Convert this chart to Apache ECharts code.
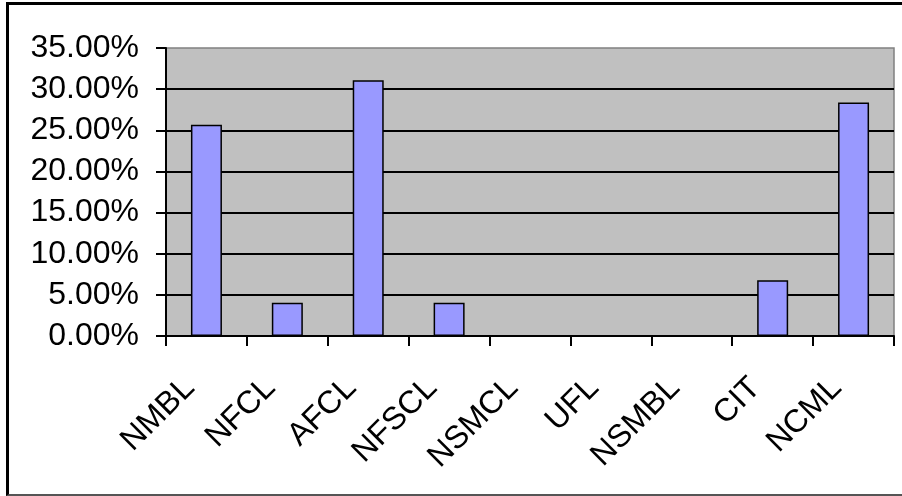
<!DOCTYPE html>
<html>
<head>
<meta charset="utf-8">
<script src="https://cdn.jsdelivr.net/npm/echarts@6/dist/echarts.min.js"></script>
<style>
  html, body { margin: 0; padding: 0; background: #fff; }
  #frame {
    position: absolute; left: 6px; top: 2px; width: 896px; height: 494px;
    border-left: 3px solid #000; border-top: 3px solid #000; border-bottom: 2px solid #555;
    box-sizing: border-box;
  }
  #chart { position: absolute; left: 0; top: 0; width: 902px; height: 496px; }
</style>
</head>
<body>
<div id="frame"></div>
<div id="chart"></div>
<script>
// Share of each line (percent)
const categories = ['NMBL', 'NFCL', 'AFCL', 'NFSCL', 'NSMCL', 'UFL', 'NSMBL', 'CIT', 'NCML'];
const shares = [25.68, 4.05, 31.08, 4.05, 0, 0, 0, 6.76, 28.38];
const yMin = 0, yMax = 35, yStep = 5;

const FONT = '"Liberation Sans", Arial, sans-serif';

const chart = echarts.init(document.getElementById('chart'), null, { renderer: 'canvas' });
chart.setOption({
  backgroundColor: 'transparent',
  animation: false,
  grid: {
    left: 166, top: 48, right: 8, bottom: 160,
    show: true, backgroundColor: '#C0C0C0', borderColor: '#808080', borderWidth: 1.5
  },
  xAxis: {
    type: 'category',
    data: categories,
    axisLine: { lineStyle: { color: '#000', width: 2 } },
    axisTick: { show: true, length: 10, interval: 0, lineStyle: { color: '#000', width: 2 } },
    axisLabel: {
      interval: 0, rotate: 45, margin: 30, padding: [0, 24, 0, 0],
      color: '#000', fontFamily: FONT, fontSize: 32
    },
    splitLine: { show: false }
  },
  yAxis: {
    type: 'value',
    min: yMin, max: yMax, interval: yStep,
    axisLine: { show: true, lineStyle: { color: '#000', width: 2 } },
    axisTick: { show: true, length: 10, lineStyle: { color: '#000', width: 2 } },
    axisLabel: {
      margin: 27, color: '#000', fontFamily: FONT, fontSize: 32,
      formatter: v => v.toFixed(2) + '%'
    },
    splitLine: { show: true, showMaxLine: false, lineStyle: { color: '#000', width: 2 } }
  },
  series: [{
    type: 'bar',
    data: shares,
    barWidth: 31,
    itemStyle: { color: '#9999FF', borderColor: '#000', borderWidth: 1.5 }
  }]
});
</script>
</body>
</html>
